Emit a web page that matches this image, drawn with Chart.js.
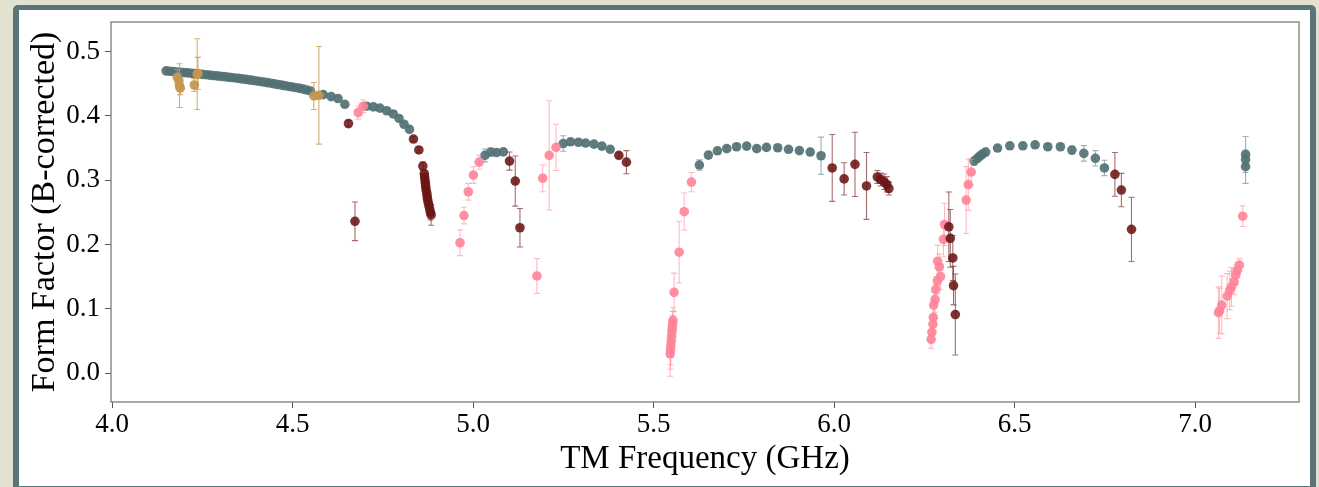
<!DOCTYPE html>
<html>
<head>
<meta charset="utf-8">
<script src="https://cdn.jsdelivr.net/npm/chart.js@4.4.1/dist/chart.umd.min.js"></script>
<style>
  html, body { margin: 0; padding: 0; background: #e3e1cf; overflow: hidden; }
  #frame {
    position: absolute; left: 13px; top: 5px;
    width: 1291px; height: 476px;
    border: 6px solid #5a7579; border-top-width: 5px; border-radius: 5px;
    background: #fff;
  }
  #wrap { position: absolute; left: 0; top: 0; width: 1319px; height: 487px; }
</style>
</head>
<body>
<div id="frame"></div>
<div id="wrap"><canvas id="ffChart"></canvas></div>
<script>
// Form factor vs TM frequency, four groups of points with error bars

const xTicks = [4.0, 4.5, 5.0, 5.5, 6.0, 6.5, 7.0];
const yTicks = [0.0, 0.1, 0.2, 0.3, 0.4, 0.5];

// teal (slate) points
const tealFreq = [
  4.15, 4.16, 4.17, 4.18, 4.19, 4.20, 4.21, 4.22, 4.23, 4.24,
  4.25, 4.26, 4.27, 4.28, 4.29, 4.30, 4.31, 4.32, 4.33, 4.34,
  4.35, 4.36, 4.37, 4.38, 4.39, 4.40, 4.41, 4.42, 4.43, 4.44,
  4.45, 4.46, 4.47, 4.48, 4.49, 4.50, 4.51, 4.52, 4.53, 4.54, 4.55,
  4.585, 4.607, 4.626, 4.645,
  4.705, 4.724, 4.742, 4.761, 4.779, 4.795, 4.809, 4.824,
  5.033, 5.049, 5.065, 5.084,
  5.250, 5.270, 5.292, 5.312, 5.335, 5.357, 5.380,
  5.627, 5.652, 5.677, 5.703, 5.730, 5.758, 5.786, 5.813, 5.844, 5.874, 5.904, 5.934, 5.964,
  6.388, 6.397, 6.404, 6.411, 6.420, 6.453, 6.487, 6.523, 6.557, 6.592, 6.627, 6.659, 6.692, 6.724, 6.749,
  7.140, 7.140, 7.140
];
const tealFF = [
  0.4700, 0.4694, 0.4689, 0.4683, 0.4678, 0.4673, 0.4668, 0.4662, 0.4657, 0.4652,
  0.4646, 0.4640, 0.4634, 0.4628, 0.4622, 0.4616, 0.4610, 0.4603, 0.4597, 0.4590,
  0.4583, 0.4576, 0.4568, 0.4560, 0.4552, 0.4543, 0.4535, 0.4526, 0.4517, 0.4508,
  0.4498, 0.4488, 0.4478, 0.4468, 0.4458, 0.4448, 0.4438, 0.4428, 0.4416, 0.4402, 0.4388,
  0.433, 0.430, 0.427, 0.418,
  0.415, 0.414, 0.412, 0.408, 0.403, 0.396, 0.387, 0.379,
  0.3385, 0.3437, 0.343, 0.344,
  0.357, 0.3597, 0.359, 0.3577, 0.356, 0.353, 0.348,
  0.3235, 0.339, 0.3457, 0.349, 0.352, 0.353, 0.349, 0.351, 0.3504, 0.348, 0.346, 0.3437, 0.338,
  0.3297, 0.334, 0.3375, 0.3406, 0.3437, 0.350, 0.3535, 0.3535, 0.355, 0.352, 0.352, 0.3468, 0.3417, 0.334, 0.319,
  0.340, 0.332, 0.321
];
const tealErr = [
  0.003, 0.003, 0.003, 0.003, 0.003, 0.003, 0.003, 0.003, 0.003, 0.003,
  0.003, 0.003, 0.003, 0.003, 0.003, 0.003, 0.003, 0.003, 0.003, 0.003,
  0.003, 0.003, 0.003, 0.003, 0.003, 0.003, 0.003, 0.003, 0.003, 0.003,
  0.003, 0.003, 0.003, 0.003, 0.003, 0.003, 0.003, 0.003, 0.003, 0.003, 0.003,
  0.004, 0.004, 0.004, 0.004,
  0.004, 0.004, 0.004, 0.004, 0.004, 0.004, 0.004, 0.004,
  0.010, 0.006, 0.004, 0.004,
  0.012, 0.004, 0.004, 0.004, 0.004, 0.004, 0.004,
  0.008, 0.005, 0.004, 0.004, 0.004, 0.004, 0.004, 0.004, 0.004, 0.004, 0.004, 0.005, 0.029,
  0.006, 0.006, 0.006, 0.006, 0.006, 0.004, 0.004, 0.004, 0.004, 0.004, 0.004, 0.006, 0.012, 0.012, 0.012,
  0.028, 0.010, 0.026
];

// pink points
const pinkFreq = [
  4.682, 4.696,
  4.964, 4.975, 4.987, 5.001, 5.017,
  5.177, 5.193, 5.211, 5.230,
  5.546, 5.547, 5.548, 5.549, 5.550, 5.551, 5.552, 5.553, 5.554, 5.557, 5.571, 5.585, 5.605,
  6.269, 6.271, 6.274, 6.275, 6.276, 6.280, 6.282, 6.286, 6.287, 6.292, 6.295, 6.303, 6.306, 6.366, 6.372, 6.380,
  7.065, 7.068, 7.074, 7.089, 7.096, 7.101, 7.108, 7.113, 7.117, 7.123, 7.132
];
const pinkFF = [
  0.405, 0.415,
  0.2027, 0.245, 0.282, 0.308, 0.328,
  0.151, 0.303, 0.3385, 0.351,
  0.030, 0.036, 0.043, 0.050, 0.057, 0.064, 0.070, 0.076, 0.082, 0.1255, 0.188, 0.251, 0.297,
  0.0524, 0.0633, 0.076, 0.0866, 0.1057, 0.1146, 0.130, 0.143, 0.174, 0.165, 0.150, 0.208, 0.231, 0.269, 0.293, 0.3126,
  0.094, 0.097, 0.1057, 0.1197, 0.1286, 0.134, 0.142, 0.153, 0.160, 0.168, 0.244
];
const pinkErr = [
  0.010, 0.010,
  0.020, 0.013, 0.013, 0.013, 0.011,
  0.027, 0.021, 0.085, 0.036,
  0.035, 0.030, 0.030, 0.025, 0.025, 0.020, 0.020, 0.020, 0.020, 0.030, 0.048, 0.029, 0.015,
  0.014, 0.015, 0.015, 0.020, 0.020, 0.020, 0.020, 0.020, 0.025, 0.020, 0.020, 0.027, 0.033, 0.052, 0.040, 0.020,
  0.040, 0.035, 0.045, 0.035, 0.030, 0.030, 0.020, 0.015, 0.012, 0.010, 0.016
];

// dark red points
const redFreq = [
  4.655, 4.673,
  4.835, 4.850, 4.861,
  4.865, 4.866, 4.867, 4.868, 4.869, 4.870, 4.872, 4.873, 4.874, 4.876, 4.878, 4.880, 4.882, 4.884,
  5.101, 5.117, 5.130,
  5.404, 5.425,
  5.995, 6.028, 6.058, 6.090, 6.120, 6.129, 6.139, 6.146, 6.152,
  6.318, 6.322, 6.329, 6.331, 6.336,
  6.778, 6.796, 6.824
];
const redFF = [
  0.388, 0.236,
  0.364, 0.347, 0.322,
  0.310, 0.305, 0.300, 0.295, 0.290, 0.285, 0.280, 0.275, 0.270, 0.265, 0.260, 0.255, 0.250, 0.246,
  0.3297, 0.2986, 0.226,
  0.3385, 0.328,
  0.319, 0.302, 0.3246, 0.291, 0.305, 0.301, 0.2975, 0.2935, 0.287,
  0.2275, 0.2095, 0.179, 0.136, 0.091,
  0.309, 0.2846, 0.2235
];
const redErr = [
  0.005, 0.030,
  0.004, 0.004, 0.006,
  0.005, 0.005, 0.005, 0.005, 0.005, 0.005, 0.005, 0.005, 0.006, 0.006, 0.008, 0.010, 0.012, 0.016,
  0.014, 0.039, 0.030,
  0.004, 0.018,
  0.052, 0.025, 0.050, 0.052, 0.010, 0.010, 0.012, 0.012, 0.010,
  0.054, 0.045, 0.035, 0.030, 0.063,
  0.034, 0.026, 0.050
];

// gold points
const goldFreq = [4.181, 4.185, 4.187, 4.189, 4.228, 4.236, 4.238, 4.559, 4.573];
const goldFF = [0.460, 0.455, 0.447, 0.443, 0.448, 0.465, 0.466, 0.431, 0.432];
const goldErr = [0.012, 0.010, 0.034, 0.010, 0.010, 0.055, 0.025, 0.021, 0.076];

const serif = '"Liberation Serif", "Times New Roman", "DejaVu Serif", serif';

function toPoints(freq, ff, err) {
  return freq.map((f, i) => ({ x: f, y: ff[i], e: err[i] }));
}

function makeSet(label, freq, ff, err, fill, errColor) {
  return {
    label: label,
    data: toPoints(freq, ff, err),
    showLine: false,
    pointRadius: 4.8,
    pointHoverRadius: 4.8,
    pointBorderWidth: 0,
    pointBackgroundColor: fill,
    errorColor: errColor
  };
}

// error bars drawn just before each dataset's markers
const errorBars = {
  id: 'errorBars',
  beforeDatasetDraw(chart, args) {
    const ds = chart.data.datasets[args.index];
    const { ctx, scales: { x, y } } = chart;
    ctx.save();
    ctx.strokeStyle = ds.errorColor;
    ctx.lineWidth = 1.1;
    ds.data.forEach(p => {
      const px = x.getPixelForValue(p.x);
      const top = y.getPixelForValue(p.y + p.e);
      const bot = y.getPixelForValue(p.y - p.e);
      ctx.beginPath();
      ctx.moveTo(px, top); ctx.lineTo(px, bot);
      ctx.moveTo(px - 3, top); ctx.lineTo(px + 3, top);
      ctx.moveTo(px - 3, bot); ctx.lineTo(px + 3, bot);
      ctx.stroke();
    });
    ctx.restore();
  }
};

// full box round the plot area
const plotBox = {
  id: 'plotBox',
  afterDraw(chart) {
    const { ctx, chartArea: a } = chart;
    ctx.save();
    ctx.strokeStyle = '#7a7a7a';
    ctx.lineWidth = 1.3;
    ctx.strokeRect(a.left, a.top, a.right - a.left, a.bottom - a.top);
    ctx.restore();
  }
};

const ctx = document.getElementById('ffChart').getContext('2d');
new Chart(ctx, {
  type: 'scatter',
  data: {
    datasets: [
      makeSet('gold', goldFreq, goldFF, goldErr, 'rgba(196,150,78,0.92)', 'rgba(204,155,80,0.8)'),
      makeSet('dark red', redFreq, redFF, redErr, 'rgba(108,22,22,0.88)', 'rgba(115,30,30,0.65)'),
      makeSet('pink', pinkFreq, pinkFF, pinkErr, 'rgba(255,132,152,0.9)', 'rgba(255,140,158,0.6)'),
      makeSet('teal', tealFreq, tealFF, tealErr, 'rgba(84,114,117,0.92)', 'rgba(95,125,128,0.6)')
    ]
  },
  options: {
    responsive: true,
    maintainAspectRatio: false,
    animation: false,
    devicePixelRatio: 1,
    layout: { padding: { top: 22, right: 20, left: 0, bottom: 0 } },
    plugins: {
      legend: { display: false },
      tooltip: { enabled: false }
    },
    scales: {
      x: {
        type: 'linear',
        min: 3.9972,
        max: 7.288,
        afterBuildTicks: (scale) => { scale.ticks = xTicks.map(v => ({ value: v })); },
        afterFit: (scale) => { scale.height = 85; },
        grid: { drawOnChartArea: false, drawTicks: true, tickLength: 6, color: '#555' },
        border: { display: false },
        ticks: {
          color: '#000',
          font: { family: serif, size: 27 },
          padding: 1,
          maxRotation: 0,
          callback: (v) => Number(v).toFixed(1)
        },
        title: {
          display: true,
          text: 'TM Frequency (GHz)',
          color: '#000',
          font: { family: serif, size: 33 },
          padding: { top: 0, bottom: 8 }
        }
      },
      y: {
        type: 'linear',
        min: -0.045,
        max: 0.546,
        afterBuildTicks: (scale) => { scale.ticks = yTicks.map(v => ({ value: v })); },
        afterFit: (scale) => { scale.width = 111; },
        grid: { drawOnChartArea: false, drawTicks: true, tickLength: 6, color: '#555' },
        border: { display: false },
        ticks: {
          color: '#000',
          font: { family: serif, size: 27 },
          padding: 5,
          callback: (v) => Number(v).toFixed(1)
        },
        title: {
          display: true,
          text: 'Form Factor (B-corrected)',
          color: '#000',
          font: { family: serif, size: 34 },
          padding: { top: 25, bottom: 0 }
        }
      }
    }
  },
  plugins: [errorBars, plotBox]
});
</script>
</body>
</html>
